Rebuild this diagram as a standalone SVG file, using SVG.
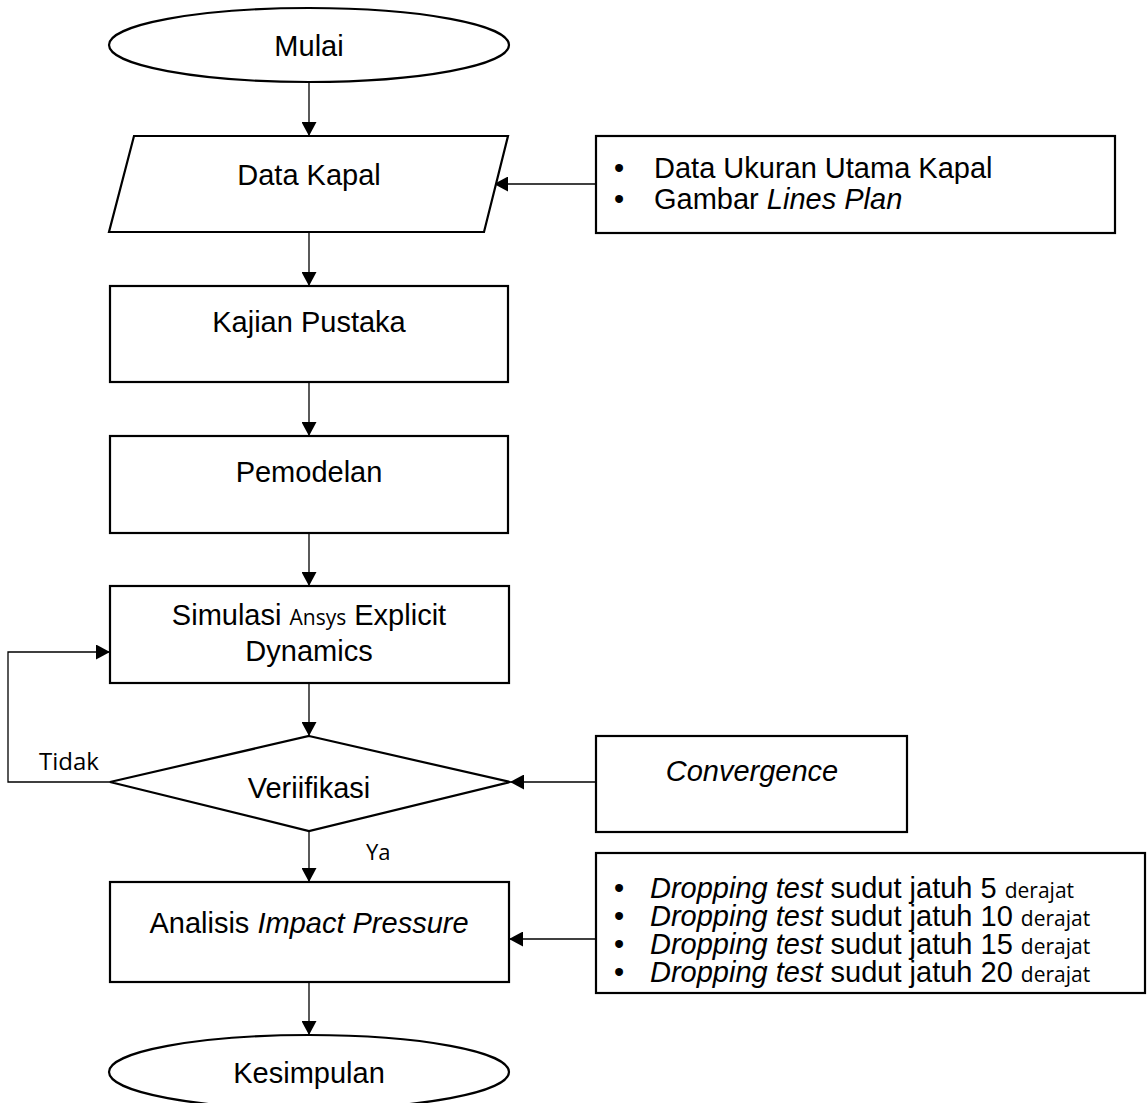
<svg xmlns="http://www.w3.org/2000/svg" width="1147" height="1103" viewBox="0 0 1147 1103">
<defs>
<marker id="arr" viewBox="0 0 14 15" refX="14" refY="7.5" markerWidth="14" markerHeight="15" markerUnits="userSpaceOnUse" orient="auto">
<path d="M0,0 L14,7.5 L0,15 z" fill="#000"/>
</marker>
</defs>
<style>
.shape{fill:#fff;stroke:#000;stroke-width:2.2}
.t{font-family:"Liberation Sans",Arial,sans-serif;font-size:29px;fill:#000}
.c{text-anchor:middle}
.i{font-style:italic}
.cal{font-family:"Open Sans","Noto Sans",sans-serif;font-size:21px}
.lbl{font-family:"Open Sans","Noto Sans",sans-serif;font-size:24px;fill:#000}
.con{fill:none;stroke:#000;stroke-width:1.3}
</style>
<rect width="1147" height="1103" fill="#fff"/>
<g id="connectors">
<line class="con" x1="309" y1="82" x2="309" y2="136" marker-end="url(#arr)"/>
<line class="con" x1="309" y1="232" x2="309" y2="286" marker-end="url(#arr)"/>
<line class="con" x1="309" y1="382" x2="309" y2="436" marker-end="url(#arr)"/>
<line class="con" x1="309" y1="533" x2="309" y2="586" marker-end="url(#arr)"/>
<line class="con" x1="309" y1="683" x2="309" y2="736" marker-end="url(#arr)"/>
<line class="con" x1="309" y1="832" x2="309" y2="882" marker-end="url(#arr)"/>
<line class="con" x1="309" y1="982" x2="309" y2="1035" marker-end="url(#arr)"/>
<line class="con" x1="596" y1="184" x2="494" y2="184" marker-end="url(#arr)"/>
<line class="con" x1="596" y1="782" x2="510" y2="782" marker-end="url(#arr)"/>
<line class="con" x1="596" y1="939" x2="509" y2="939" marker-end="url(#arr)"/>
<polyline class="con" points="110,782 8,782 8,652 110,652" marker-end="url(#arr)"/>
<text class="lbl" x="39" y="770">Tidak</text>
<text class="lbl" x="366" y="860" style="font-size:22px">Ya</text>
</g>
<g id="mulai">
<ellipse class="shape" cx="309" cy="45" rx="200" ry="37"/>
<text class="t c" x="309" y="56">Mulai</text>
</g>
<g id="data-kapal">
<polygon class="shape" points="134,136 508,136 484,232 109,232"/>
<text class="t c" x="309" y="185">Data Kapal</text>
</g>
<g id="data-input">
<rect class="shape" x="596" y="136" width="519" height="97"/>
<text class="t" x="614" y="178">•<tspan x="654">Data Ukuran Utama Kapal</tspan></text>
<text class="t" x="614" y="209">•<tspan x="654">Gambar </tspan><tspan class="i">Lines Plan</tspan></text>
</g>
<g id="kajian">
<rect class="shape" x="110" y="286" width="398" height="96"/>
<text class="t c" x="309" y="332">Kajian Pustaka</text>
</g>
<g id="pemodelan">
<rect class="shape" x="110" y="436" width="398" height="97"/>
<text class="t c" x="309" y="482">Pemodelan</text>
</g>
<g id="simulasi">
<rect class="shape" x="110" y="586" width="399" height="97"/>
<text class="t c" x="309" y="625">Simulasi <tspan class="cal">Ansys</tspan> Explicit</text>
<text class="t c" x="309" y="661">Dynamics</text>
</g>
<g id="verifikasi">
<polygon class="shape" points="309,736 510,782 309,831 110,782"/>
<text class="t c" x="309" y="798">Veriifikasi</text>
</g>
<g id="convergence">
<rect class="shape" x="596" y="736" width="311" height="96"/>
<text class="t c i" x="752" y="781">Convergence</text>
</g>
<g id="dropping">
<rect class="shape" x="596" y="853" width="549" height="140"/>
<text class="t" x="614" y="898">•<tspan x="650" class="i">Dropping test</tspan> sudut jatuh 5 <tspan class="cal">derajat</tspan></text>
<text class="t" x="614" y="926">•<tspan x="650" class="i">Dropping test</tspan> sudut jatuh 10 <tspan class="cal">derajat</tspan></text>
<text class="t" x="614" y="954">•<tspan x="650" class="i">Dropping test</tspan> sudut jatuh 15 <tspan class="cal">derajat</tspan></text>
<text class="t" x="614" y="982">•<tspan x="650" class="i">Dropping test</tspan> sudut jatuh 20 <tspan class="cal">derajat</tspan></text>
</g>
<g id="analisis">
<rect class="shape" x="110" y="882" width="399" height="100"/>
<text class="t c" x="309" y="933">Analisis <tspan class="i">Impact Pressure</tspan></text>
</g>
<g id="kesimpulan">
<ellipse class="shape" cx="309" cy="1072" rx="200" ry="37"/>
<text class="t c" x="309" y="1083">Kesimpulan</text>
</g>
</svg>
